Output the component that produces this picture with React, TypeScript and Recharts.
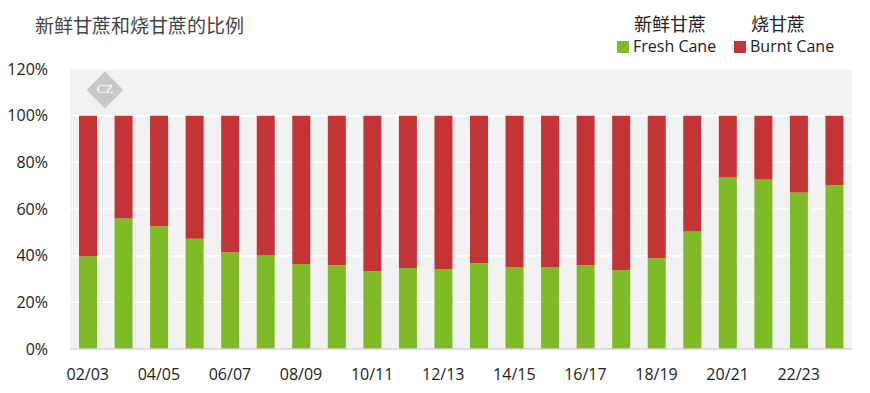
import { BarChart, Bar, XAxis, YAxis, CartesianGrid } from "recharts";

const seasons = [
  "02/03", "03/04", "04/05", "05/06", "06/07", "07/08", "08/09", "09/10",
  "10/11", "11/12", "12/13", "13/14", "14/15", "15/16", "16/17", "17/18",
  "18/19", "19/20", "20/21", "21/22", "22/23", "23/24",
];

// share of fresh cane, %
const freshShare = [
  39.8, 55.9, 52.6, 47.3, 41.5, 40.1, 36.4, 35.9, 33.4, 34.7, 34.2,
  36.7, 35.0, 35.1, 35.9, 33.8, 38.9, 50.4, 73.5, 72.6, 67.1, 70.2,
];

const yTicks = [0, 20, 40, 60, 80, 100, 120];

const COLORS = {
  fresh: "#7fba27", // green
  burnt: "#c43335", // red
};

const chartData = seasons.map((s, i) => ({
  season: s,
  fresh: freshShare[i],
  burnt: Number((100 - freshShare[i]).toFixed(1)),
}));

const font = "'Open Sans', 'Noto Sans', sans-serif";
const cjk = "'Noto Sans CJK SC', sans-serif";

function LegendItem({ zh, en, color, left }: { zh: string; en: string; color: string; left: number }) {
  return (
    <>
      <div style={{ position: "absolute", left: left + 17, top: 13, fontFamily: cjk, fontSize: 18, color: "#222", lineHeight: "20px" }}>
        {zh}
      </div>
      <div
        style={{
          position: "absolute",
          left,
          top: 38,
          display: "flex",
          alignItems: "center",
          gap: 4,
          fontFamily: font,
          fontSize: 16,
          color: "#222",
          lineHeight: "17px",
        }}
      >
        <div style={{ width: 12, height: 12, backgroundColor: color }} />
        <span>{en}</span>
      </div>
    </>
  );
}

export default function App() {
  return (
    <div style={{ position: "absolute", left: 0, top: 0, width: 870, height: 393, background: "#fff" }}>
      <div style={{ position: "absolute", left: 35, top: 11, fontFamily: cjk, fontSize: 19, color: "#444" }}>
        新鲜甘蔗和烧甘蔗的比例
      </div>
      <LegendItem zh="新鲜甘蔗" en="Fresh Cane" color={COLORS.fresh} left={617} />
      <LegendItem zh="烧甘蔗" en="Burnt Cane" color={COLORS.burnt} left={734} />
      <BarChart
        width={870}
        height={393}
        data={chartData}
        margin={{ top: 69, right: 18, bottom: 14, left: 0 }}
        barCategoryGap={0}
        style={{ position: "absolute", left: 0, top: 0 }}
      >
        <CartesianGrid vertical={false} stroke="#ffffff" strokeWidth={1.5} fill="#f2f2f2" />
        <XAxis
          dataKey="season"
          interval={1}
          tickLine={false}
          axisLine={{ stroke: "#d4d4d4", strokeWidth: 1.5 }}
          tick={{ fill: "#222", fontSize: 16, fontFamily: font }}
          tickMargin={14}
        />
        <YAxis
          width={70}
          domain={[0, 120]}
          ticks={yTicks}
          tickFormatter={(v) => `${v}%`}
          axisLine={false}
          tickLine={false}
          tick={{ fill: "#222", fontSize: 16, fontFamily: font }}
          tickMargin={16}
        />
        <Bar dataKey="fresh" stackId="a" fill={COLORS.fresh} barSize={18} isAnimationActive={false} />
        <Bar dataKey="burnt" stackId="a" fill={COLORS.burnt} barSize={18} isAnimationActive={false} />
      </BarChart>
      <div
        style={{
          position: "absolute",
          left: 92,
          top: 77,
          width: 26,
          height: 26,
          background: "#c8c8c8",
          transform: "rotate(45deg)",
        }}
      />
      <div style={{ position: "absolute", left: 95, top: 81, width: 20, textAlign: "center", fontFamily: "serif", fontSize: 13, color: "#fff" }}>
        CZ
      </div>
    </div>
  );
}
